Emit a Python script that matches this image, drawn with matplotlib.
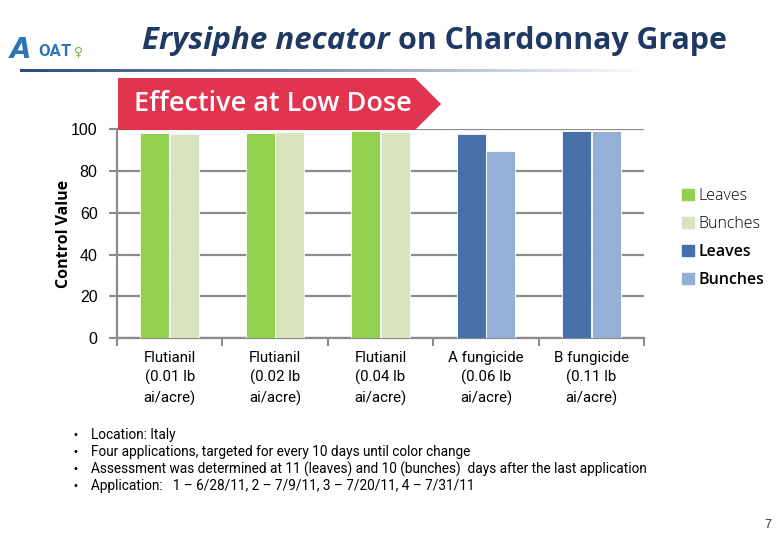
import numpy as np
import matplotlib
matplotlib.use("Agg")
import matplotlib.pyplot as plt
from matplotlib.patches import Polygon, Patch
from matplotlib.colors import LinearSegmentedColormap

categories = ["Flutianil\n(0.01 lb\nai/acre)", "Flutianil\n(0.02 lb\nai/acre)", "Flutianil\n(0.04 lb\nai/acre)",
              "A fungicide\n(0.06 lb\nai/acre)", "B fungicide\n(0.11 lb\nai/acre)"]
leaves = [98.2, 98.2, 99.2, 97.6, 99.2]
bunches = [97.6, 98.7, 98.6, 89.6, 99.0]
yticks = [0, 20, 40, 60, 80, 100]
notes = ["Location: Italy",
         "Four applications, targeted for every 10 days until color change",
         "Assessment was determined at 11 (leaves) and 10 (bunches)  days after the last application",
         "Application:   1 – 6/28/11, 2 – 7/9/11, 3 – 7/20/11, 4 – 7/31/11"]

leaf_cols = ["#92D050", "#92D050", "#92D050", "#4571A8", "#4571A8"]
bunch_cols = ["#D7E4BD", "#D7E4BD", "#D7E4BD", "#95B0D6", "#95B0D6"]
narrow = ["Roboto", "DejaVu Sans"]
W, H = 780, 540


def fx(px):
    return px / W


def fy(py):
    return 1 - py / H


fig = plt.figure(figsize=(7.8, 5.4), dpi=100)
ax = fig.add_axes([fx(117), fy(338.3), fx(644) - fx(117), fy(129) - fy(338.3)])

x = np.arange(len(categories))
ax.bar(x - 0.14, leaves, width=0.275, color=leaf_cols, edgecolor="white", linewidth=0.6, zorder=3)
ax.bar(x + 0.14, bunches, width=0.275, color=bunch_cols, edgecolor="white", linewidth=0.6, zorder=3)

ax.set_xlim(-0.5, len(categories) - 0.5)
ax.set_ylim(0, 100)
ax.set_yticks(yticks)
ax.set_yticklabels([str(v) for v in yticks], fontsize=11.5, family="Liberation Sans")
ax.yaxis.grid(True, color="#8c8c8c", linewidth=1.6, zorder=0)
ax.set_axisbelow(True)
ax.tick_params(axis="y", length=6, width=1.5, color="#8c8c8c", pad=8)
ax.set_xticks(x)
ax.set_xticklabels(categories, fontsize=10.8, family=narrow, linespacing=1.45)
ax.set_xticks(np.arange(-0.5, len(categories)), minor=True)
ax.tick_params(axis="x", which="major", length=0, pad=9)
ax.tick_params(axis="x", which="minor", length=6, width=1.5, color="#8c8c8c")
for s in ["top", "right"]:
    ax.spines[s].set_visible(False)
for s in ["left", "bottom"]:
    ax.spines[s].set_color("#8c8c8c")
    ax.spines[s].set_linewidth(1.6)
ax.set_ylabel("Control Value", fontsize=11.5, fontweight="bold", family="Open Sans", labelpad=-1)

# legend
handles = [Patch(color=leaf_cols[0]), Patch(color=bunch_cols[0]), Patch(color=leaf_cols[3]), Patch(color=bunch_cols[3])]
leg = fig.legend(handles, ["Leaves", "Bunches", "Leaves", "Bunches"], loc="upper left",
                 bbox_to_anchor=(fx(668), fy(174)), frameon=False,
                 handlelength=0.7, handleheight=0.7, handletextpad=0.3, labelspacing=0.75,
                 prop={"family": "Open Sans", "size": 11.5})
for t in leg.get_texts()[:2]:
    t.set_fontweight("light")
for t in leg.get_texts()[2:]:
    t.set_fontweight("semibold")

# title
navy = "#1F3864"
fig.text(fx(390), fy(41), "Erysiphe necator", ha="right", va="center", fontsize=22.5,
         fontweight="bold", style="italic", color=navy, family="Open Sans")
fig.text(fx(398), fy(41), "on Chardonnay Grape", ha="left", va="center", fontsize=21.9,
         fontweight="bold", color=navy, family="Open Sans")

# gradient rule under title
gax = fig.add_axes([fx(20), fy(72), fx(650) - fx(20), 3 / H])
grad = np.linspace(0, 1, 256)[None, :]
cmap = LinearSegmentedColormap.from_list("rule", ["#2B4C7E", "#8C9BB5", "#FFFFFF"])
gax.imshow(grad, aspect="auto", cmap=cmap)
gax.axis("off")

# logo
fig.text(fx(10), fy(50), "A", ha="left", va="center", fontsize=20, style="italic",
         fontweight="bold", color="#2E75B6", family="DejaVu Sans")
fig.text(fx(38), fy(52), "OAT", ha="left", va="center", fontsize=12, fontweight="bold",
         color="#2E75B6", family="Roboto")
fig.text(fx(74), fy(52), "♀", ha="left", va="center", fontsize=9, color="#7AB648", family="DejaVu Sans")

# banner
banner = Polygon([(fx(118), fy(78)), (fx(415), fy(78)), (fx(441), fy(104)), (fx(415), fy(130)), (fx(118), fy(130))],
                 closed=True, facecolor="#E0344F", edgecolor="none", transform=fig.transFigure, zorder=5)
fig.add_artist(banner)
fig.text(fx(273), fy(104), "Effective at Low Dose", ha="center", va="center", fontsize=19.5,
         fontweight="semibold", color="white", family="Open Sans", zorder=6)

# notes
for i, line in enumerate(notes):
    yy = fy(435 + 17 * i)
    fig.text(fx(72), yy, "•", ha="left", va="center", fontsize=7, family="DejaVu Sans")
    fig.text(fx(91), yy, line, ha="left", va="center", fontsize=9.8, family=narrow)

fig.text(fx(768), fy(525), "7", ha="center", va="center", fontsize=9, color="#333333", family="Liberation Sans")

fig.savefig("out.png", dpi=100)
